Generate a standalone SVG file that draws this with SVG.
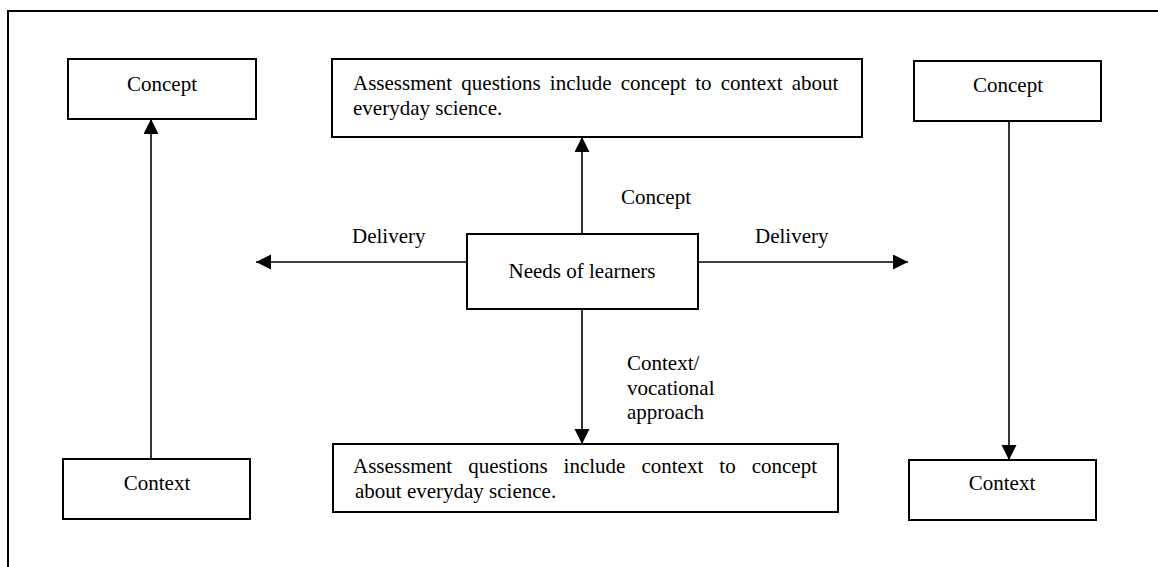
<svg xmlns="http://www.w3.org/2000/svg" width="1158" height="567" viewBox="0 0 1158 567" font-family="'Liberation Serif', 'DejaVu Serif', serif">
<style>
  .box { fill: #ffffff; stroke: #000000; stroke-width: 2; }
  text { font-family: 'Liberation Serif', 'DejaVu Serif', serif; font-size: 21px; fill: #000000; }
  .c { text-anchor: middle; }
  .conn line { stroke: #000000; stroke-width: 1.6; marker-end: url(#arrow); }
  .frame { stroke: #000000; stroke-width: 2; fill: none; }
</style>
<defs>
  <marker id="arrow" markerUnits="userSpaceOnUse" markerWidth="16" markerHeight="16" refX="15" refY="7.5" orient="auto">
    <path d="M0,0 L15,7.5 L0,15 Z" fill="#000000"/>
  </marker>
</defs>
<rect width="1158" height="567" fill="#ffffff"/>
<path class="frame" d="M8,567 L8,11 L1158,11"/>

<g id="connectors" class="conn">
  <line x1="151" y1="459" x2="151" y2="119"/>
  <line x1="1009" y1="121" x2="1009" y2="460"/>
  <line x1="582" y1="234" x2="582" y2="137"/>
  <line x1="582" y1="309" x2="582" y2="444"/>
  <line x1="467" y1="262" x2="256" y2="262"/>
  <line x1="698" y1="262" x2="908" y2="262"/>
</g>

<g id="labels">
  <text x="621" y="204">Concept</text>
  <text x="352" y="243">Delivery</text>
  <text x="755" y="243">Delivery</text>
  <text x="627" y="370">Context/</text>
  <text x="627" y="395">vocational</text>
  <text x="627" y="419">approach</text>
</g>

<g id="node-concept-left">
  <rect class="box" x="68" y="59" width="188" height="60"/>
  <text class="c" x="162" y="91">Concept</text>
</g>

<g id="node-context-left">
  <rect class="box" x="63" y="459" width="187" height="60"/>
  <text class="c" x="157" y="490">Context</text>
</g>

<g id="node-concept-right">
  <rect class="box" x="914" y="61" width="187" height="60"/>
  <text class="c" x="1008" y="92">Concept</text>
</g>

<g id="node-context-right">
  <rect class="box" x="909" y="460" width="187" height="60"/>
  <text class="c" x="1002" y="490">Context</text>
</g>

<g id="node-needs">
  <rect class="box" x="467" y="234" width="231" height="75"/>
  <text class="c" x="582" y="278">Needs of learners</text>
</g>

<g id="node-assess-top">
  <rect class="box" x="332" y="59" width="530" height="78"/>
  <text x="353" y="90" word-spacing="3.9">Assessment questions include concept to context about</text>
  <text x="353" y="115">everyday science.</text>
</g>

<g id="node-assess-bottom">
  <rect class="box" x="333" y="444" width="505" height="68"/>
  <text x="353" y="473" word-spacing="10.8">Assessment questions include context to concept</text>
  <text x="355" y="498">about everyday science.</text>
</g>
</svg>
